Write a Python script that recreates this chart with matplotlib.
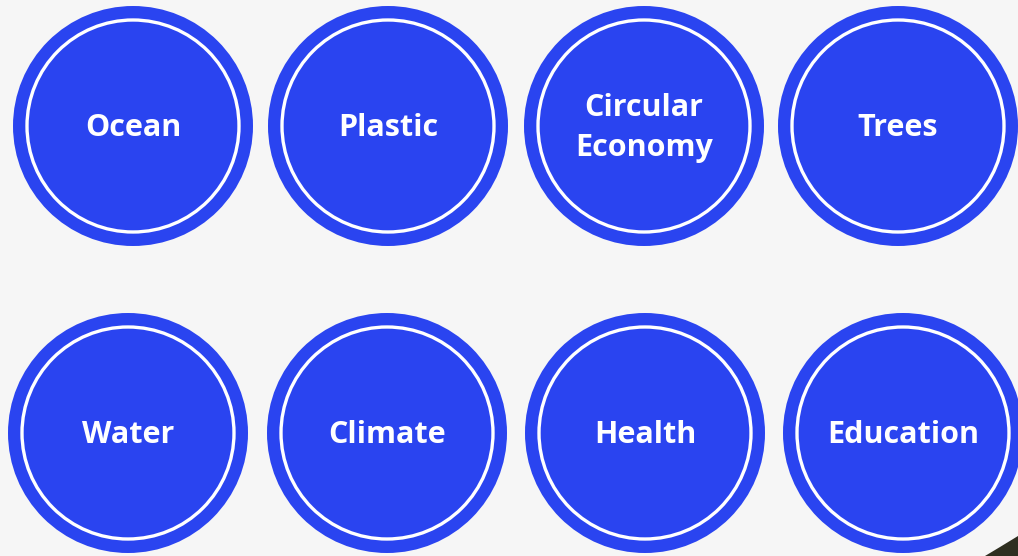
import matplotlib.pyplot as plt
from matplotlib.patches import Circle, Polygon

# Topic labels, top row then bottom row
top_labels = ['Ocean', 'Plastic', 'Circular\nEconomy', 'Trees']
bottom_labels = ['Water', 'Climate', 'Health', 'Education']

blue = '#2a44f0'
bg = '#f6f6f6'

fig = plt.figure(figsize=(10.18, 5.56), dpi=100)
fig.patch.set_facecolor(bg)
ax = fig.add_axes([0, 0, 1, 1])
ax.set_facecolor(bg)
ax.set_xlim(0, 1018)
ax.set_ylim(556, 0)
ax.set_aspect('equal')
ax.axis('off')

# layout in pixel space
top_x = [133, 388, 644, 898]
bottom_x = [128, 387, 645, 903]
rows = [(top_labels, top_x, 126), (bottom_labels, bottom_x, 433)]

for labels, xs, y in rows:
    for label, x in zip(labels, xs):
        ax.add_patch(Circle((x, y), 120, facecolor=blue, edgecolor='none'))
        ax.add_patch(Circle((x, y), 106, facecolor='none', edgecolor='white', lw=2.4))
        ax.text(x, y + 2, label, ha='center', va='center', color='white',
                fontsize=22, fontweight='bold', family='Open Sans',
                linespacing=1.4)

# dark corner shape at bottom right
ax.add_patch(Polygon([(985, 556), (1000, 547), (1018, 536), (1018, 556)],
                     closed=True, facecolor='#2e2e20', edgecolor='none'))

fig.savefig('out.png', dpi=100, facecolor=bg)
